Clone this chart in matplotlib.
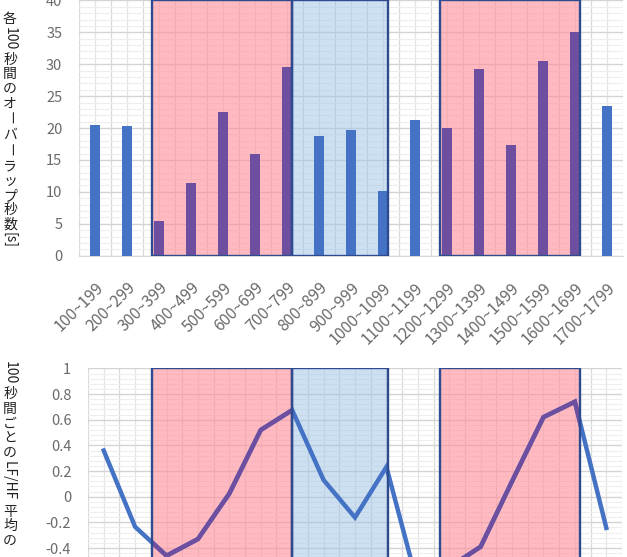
import numpy as np
import matplotlib
matplotlib.use("Agg")
import matplotlib.pyplot as plt
import matplotlib.ticker as ticker
import matplotlib.transforms as mtransforms
from matplotlib.patches import Rectangle

plt.rcParams["font.family"] = ["Noto Sans CJK JP", "DejaVu Sans"]

# ── data ───────────────────────────────────────────────
categories = ["100~199", "200~299", "300~399", "400~499", "500~599", "600~699",
              "700~799", "800~899", "900~999", "1000~1099", "1100~1199",
              "1200~1299", "1300~1399", "1400~1499", "1500~1599",
              "1600~1699", "1700~1799"]
overlap_sec = [20.4, 20.3, 5.4, 11.4, 22.5, 16.0, 29.5, 18.7, 19.7, 10.2,
               21.2, 20.0, 29.3, 17.3, 30.5, 35.0, 23.5]
lfhf_mean = [0.36, -0.235, -0.46, -0.33, 0.025, 0.52, 0.675, 0.13, -0.162,
             0.232, -0.69, -0.55, -0.39, 0.12, 0.62, 0.74, -0.243]

# shaded spans (in top chart category units)
pink_spans = [(1.78, 6.16), (10.78, 15.16)]
blue_spans = [(6.16, 9.16)]

ylabel_top = [("各", 0), ("100", 1), ("秒", 0), ("間", 0), ("の", 0), ("オ", 0),
              ("ー", 1), ("バ", 0), ("ー", 1), ("ラ", 0), ("ッ", 0), ("プ", 0),
              ("秒", 0), ("数", 0), ("[s]", 1)]
ylabel_bot = [("100", 1), ("秒", 0), ("間", 0), ("ご", 0), ("と", 0), ("の", 0),
              ("LF/HF ", 1), ("平", 0), ("均", 0), ("の", 0)]

BLUE = "#4472C4"
PURPLE = "#6E4E9E"
PINK = "#FF8C99"
LBLUE = "#9DC3E6"
EDGE = "#2F4B8F"
TICK = "#6A6A6A"

W, H = 627, 557
fig = plt.figure(figsize=(W / 100, H / 100), dpi=100)

ax1 = fig.add_axes([79 / W, 1 - 255.7 / H, 544 / W, 255.3 / H])
ax2 = fig.add_axes([88 / W, 1 - 625 / H, 534 / W, 256.6 / H])

n = len(categories)
x = np.arange(n)


def style(ax):
    ax.set_xlim(-0.5, n - 0.5)
    ax.xaxis.set_major_locator(ticker.FixedLocator(x))
    ax.xaxis.set_minor_locator(ticker.FixedLocator(np.arange(-0.5, n, 1.0)))
    ax.grid(which="major", axis="x", color="#E4E4E4", lw=0.9)
    ax.grid(which="minor", axis="x", color="#D9D9D9", lw=0.9)
    ax.grid(which="major", axis="y", color="#D4D4D4", lw=1.0)
    ax.grid(which="minor", axis="y", color="#EEEEEE", lw=0.8)
    ax.set_axisbelow(True)
    for s in ax.spines.values():
        s.set_visible(False)
    ax.tick_params(which="both", length=0)
    ax.tick_params(axis="y", labelsize=10.5, labelcolor=TICK, pad=12)


def shade(ax, y0, y1):
    tr = mtransforms.blended_transform_factory(ax1.transData, ax.transAxes)
    patches = []
    for spans, col, a in ((pink_spans, PINK, 0.6), (blue_spans, LBLUE, 0.5)):
        for a0, a1 in spans:
            r = Rectangle((a0, y0), a1 - a0, y1 - y0, transform=tr,
                          facecolor=col, alpha=a, edgecolor="none", zorder=1)
            ax.add_patch(r)
            ax.add_patch(Rectangle((a0, y0), a1 - a0, y1 - y0, transform=tr,
                                   facecolor="none", edgecolor=EDGE, lw=1.7,
                                   zorder=4))
            if col == PINK:
                patches.append(r)
    return patches


# ── top: bars ──────────────────────────────────────────
style(ax1)
ax1.set_ylim(0, 40)
ax1.yaxis.set_major_locator(ticker.MultipleLocator(5))
ax1.yaxis.set_minor_locator(ticker.MultipleLocator(1))
ax1.spines["bottom"].set_visible(True)
ax1.spines["bottom"].set_color("#D9D9D9")
shade(ax1, 0, 1)
cols = [PURPLE if any(a0 < i < a1 for a0, a1 in pink_spans) else BLUE for i in x]
ax1.bar(x, overlap_sec, width=0.31, color=cols, zorder=3)
ax1.set_xticks(x)
ax1.set_xticklabels(categories, rotation=45, ha="right", va="top",
                    rotation_mode="anchor", fontsize=11.5, color=TICK)
ax1.tick_params(axis="x", pad=17)

# ── bottom: line ───────────────────────────────────────
style(ax2)
ax2.set_ylim(-1, 1)
ax2.yaxis.set_major_locator(ticker.MultipleLocator(0.2))
ax2.yaxis.set_minor_locator(ticker.MultipleLocator(0.04))
ax2.yaxis.set_major_formatter(ticker.FuncFormatter(
    lambda v, p: f"{v:.1f}".rstrip("0").rstrip(".") if abs(v) > 1e-9 else "0"))
pink_patches = shade(ax2, 0, 1)
ax2.plot(x, lfhf_mean, color=BLUE, lw=3.2, zorder=3, solid_joinstyle="miter")
for p in pink_patches:
    ln, = ax2.plot(x, lfhf_mean, color=PURPLE, lw=3.2, zorder=3.1,
                   solid_joinstyle="miter")
    ln.set_clip_path(p)
ax2.set_xticklabels([])


# ── vertical (tategaki) y labels ───────────────────────
def vertical_label(pieces, x_px, y_px, size):
    renderer = fig.canvas.get_renderer()
    em = size * fig.dpi / 72
    y = y_px
    for s, rot in pieces:
        t = fig.text(x_px / W, 1 - y / H, s, rotation=-90 if rot else 0,
                     ha="center", va="top", fontsize=size, color="#222222")
        if rot:
            y += t.get_window_extent(renderer).height + 3
        else:
            y += em * 1.05


vertical_label(ylabel_top, 10, 12, 10)
vertical_label(ylabel_bot, 10, 361, 10)

fig.savefig("out.png", dpi=100, facecolor="white")
